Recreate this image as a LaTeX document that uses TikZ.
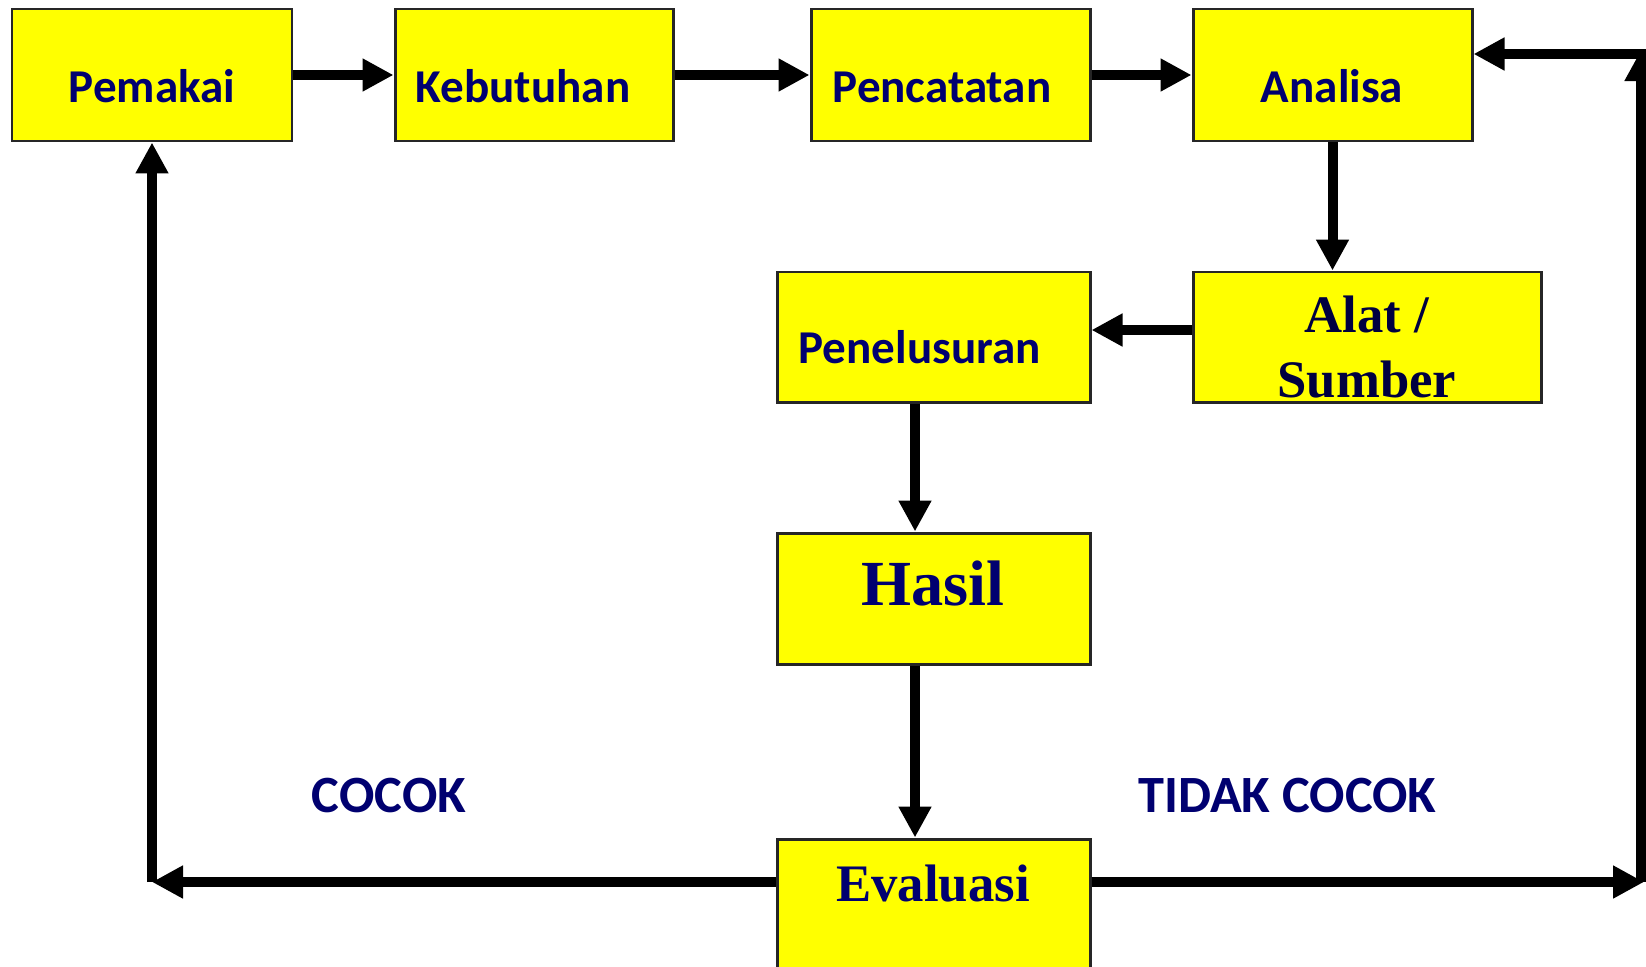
\documentclass[tikz,border=0pt]{standalone}
\usepackage{fontspec}
\newfontfamily\carlitofont{Carlito}
\newfontfamily\tnrfont{Liberation Serif}
\usepackage{xcolor}
\usepackage{tikz}
\usetikzlibrary{arrows.meta,calc}

\definecolor{navytext}{RGB}{0,0,112}
\definecolor{darknavy}{RGB}{0,0,64}
\definecolor{boxyellow}{RGB}{255,255,0}

\begin{document}
\begin{tikzpicture}[
  box/.style={draw=black!85, line width=0.85pt, fill=boxyellow, inner sep=0pt},
  flow/.style={line width=0.1cm, -{Triangle[length=0.31cm,width=0.31cm]}},
  lbl/.style={anchor=base, text=navytext,
    font=\fontsize{13.4}{16}\selectfont\carlitofont\bfseries},
  biglbl/.style={anchor=base, text=navytext,
    font=\fontsize{14.9}{17}\selectfont\carlitofont\bfseries},
  serif/.style={anchor=base, text=navytext,
    font=\fontsize{15}{18}\selectfont\tnrfont\bfseries}
]
\useasboundingbox (0,0) rectangle (16.46,9.66);

% =========================================================
% Top row
% =========================================================
\node[box, minimum width=2.80cm, minimum height=1.32cm] (pem)  at (1.52,8.91)   {};
\node[box, minimum width=2.78cm, minimum height=1.32cm] (keb)  at (5.34,8.91)   {};
\node[box, minimum width=2.79cm, minimum height=1.32cm] (penc) at (9.505,8.91)  {};
\node[box, minimum width=2.79cm, minimum height=1.32cm] (ana)  at (13.325,8.91) {};

\node[lbl] (pem-t)  at (1.52,8.64)  {Pemakai};
\node[lbl] (keb-t)  at (5.23,8.64)  {Kebutuhan};
\node[lbl] (penc-t) at (9.42,8.64)  {Pencatatan};
\node[lbl] (ana-t)  at (13.32,8.64) {Analisa};

% =========================================================
% Middle column
% =========================================================
\node[box, minimum width=3.48cm, minimum height=1.30cm] (alat) at (13.67,6.29) {};
\node[box, minimum width=3.13cm, minimum height=1.30cm] (pen)  at (9.335,6.29) {};
\node[box, minimum width=3.13cm, minimum height=1.31cm] (has)  at (9.335,3.675) {};
\node[box, minimum width=3.13cm, minimum height=1.61cm] (eva)  at (9.335,0.465) {};

\node[serif, text=darknavy] (alat-t1) at (13.67,6.34) {Alat /};
\node[serif, text=darknavy] (alat-t2) at (13.67,5.69) {Sumber};
\node[lbl] (pen-t) at (9.195,6.03) {Penelusuran};
\node[serif, font=\fontsize{18.3}{22}\selectfont\tnrfont\bfseries] (has-t) at (9.33,3.61) {Hasil};
\node[serif] (eva-t) at (9.33,0.65) {Evaluasi};

% Decision labels
\node[biglbl] (cocok)  at (3.89,1.54)   {COCOK};
\node[biglbl] (tidak)  at (12.875,1.54) {TIDAK COCOK};

% =========================================================
% Connectors
% =========================================================
\draw[flow] (pem) -- (keb);
\draw[flow] (keb) -- (penc);
\draw[flow] (penc) -- (ana);
\draw[flow] (ana.south) -- (ana.south |- alat.north);
\draw[flow] ([yshift=0.07cm]alat.west) -- ([yshift=0.07cm]pen.east);
\draw[flow] ([xshift=-0.185cm]pen.south) -- ([xshift=-0.185cm]has.north);
\draw[flow] ([xshift=-0.185cm]has.south) -- ([xshift=-0.185cm]eva.north);

% Feedback loops
\coordinate (cl) at (1.52,0.84);
\coordinate (cr) at (16.41,0.84);
\coordinate (ct) at (16.41,9.12);

\draw[flow] (eva.west |- cl) -- (cl);
\draw[flow] (cl) -- (pem.south);

\draw[flow] (eva.east |- cr) -- ([xshift=0.03cm]cr);
\draw[flow] (cr) -- ([yshift=0.04cm]ct);
\draw[flow] ([xshift=0.05cm]ct) -- (ana.east |- ct);

\end{tikzpicture}
\end{document}
